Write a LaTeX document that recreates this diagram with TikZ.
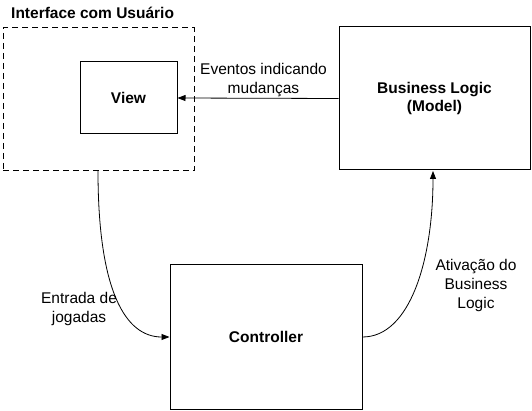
\documentclass[tikz,border=0pt]{standalone}
\usepackage{fontspec}
\setmainfont{Liberation Sans}
\usetikzlibrary{arrows.meta}
\begin{document}
\begin{tikzpicture}[x=1pt,y=-1pt,
  box/.style={draw,line width=1pt,minimum width=0pt,inner sep=0pt,font=\fontsize{15.5}{18.5}\selectfont\bfseries,align=center},
  lbl/.style={font=\fontsize{15.5}{19}\selectfont,align=center,inner sep=0pt},
  conn/.style={line width=0.8pt,-{Triangle[length=8pt,width=6pt]}}]
\useasboundingbox (0,0) rectangle (532,411);
\fill[white] (0,0) rectangle (532,411);
\node[draw,dash pattern=on 6pt off 4pt,line width=1pt,minimum width=191pt,minimum height=143pt,inner sep=0pt] (ui) at (98.5,99.5) {};
\node[font=\fontsize{15.5}{18}\selectfont\bfseries,anchor=west,inner sep=0pt] (uit) at (11,13) {Interface com Usuário};
\node[box,minimum width=97pt,minimum height=72pt] (view) at (128.5,98) {View};
\node[box,minimum width=191pt,minimum height=143pt] (bl) at (434.5,98.5) {Business Logic\\(Model)};
\node[box,minimum width=192pt,minimum height=144pt] (ctl) at (266,337) {Controller};
\draw[conn] (bl.west) -- (view.east);
\node[lbl] (ev) at (263.5,80) {Eventos indicando\\mudanças};
\draw[conn] (98,171) .. controls (98,290) and (125,337) .. (ctl.west);
\node[lbl] (ent) at (79,309) {Entrada de\\jogadas};
\draw[conn] (ctl.east) .. controls (410,337) and (433,260) .. (433,171);
\node[lbl] (at) at (476,285) {Ativação do\\Business\\Logic};
\end{tikzpicture}
\end{document}
